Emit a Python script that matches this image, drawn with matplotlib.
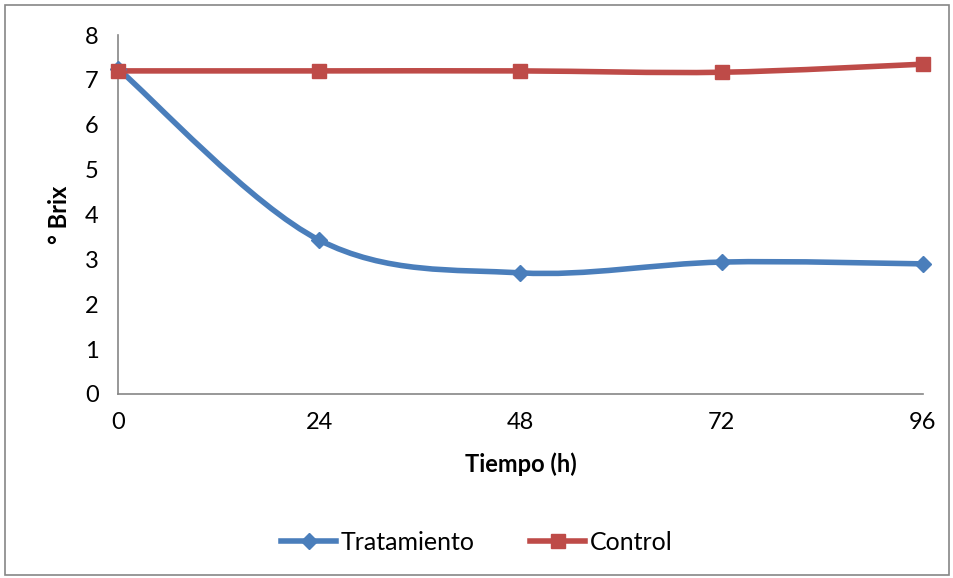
import numpy as np
import matplotlib.pyplot as plt
from matplotlib.path import Path
from matplotlib.patches import PathPatch, Rectangle
from matplotlib.lines import Line2D

plt.rcParams['font.family'] = ['Lato', 'DejaVu Sans']

horas = [0, 24, 48, 72, 96]
tratamiento = [7.25, 3.43, 2.70, 2.94, 2.90]
control = [7.20, 7.20, 7.20, 7.17, 7.35]

azul = '#4a7ebb'
rojo = '#be4b48'


def curva_suave(ax, x, y, color):
    # suavizado tipo Excel (Catmull-Rom -> Bezier)
    x = np.asarray(x, float)
    y = np.asarray(y, float)
    pts = np.column_stack([x, y])
    n = len(pts)
    verts = [pts[0]]
    codes = [Path.MOVETO]
    for i in range(n - 1):
        p0 = pts[i - 1] if i > 0 else pts[i]
        p1 = pts[i]
        p2 = pts[i + 1]
        p3 = pts[i + 2] if i + 2 < n else pts[i + 1]
        c1 = p1 + (p2 - p0) / 6
        c2 = p2 - (p3 - p1) / 6
        verts += [c1, c2, p2]
        codes += [Path.CURVE4] * 3
    ax.add_patch(PathPatch(Path(verts, codes), fill=False, edgecolor=color,
                           lw=4, capstyle='round', joinstyle='round', zorder=2))


fig = plt.figure(figsize=(9.54, 5.78), dpi=100)
ax = fig.add_axes([118 / 954, 1 - 394 / 578, (923 - 118) / 954, (394 - 35) / 578])

curva_suave(ax, horas, tratamiento, azul)
curva_suave(ax, horas, control, rojo)
ax.plot(horas, tratamiento, ls='none', marker='D', ms=8.5, color=azul, zorder=3, clip_on=False)
ax.plot(horas, control, ls='none', marker='s', ms=10.5, color=rojo, zorder=3, clip_on=False)

ax.set_xlim(0, 96)
ax.set_ylim(0, 8)
ax.set_xticks(horas)
ax.set_yticks(range(0, 9))
ax.tick_params(length=0, labelsize=17)
ax.tick_params(axis='x', pad=13)
ax.tick_params(axis='y', pad=14)
for s in ['top', 'right']:
    ax.spines[s].set_visible(False)
for s in ['left', 'bottom']:
    ax.spines[s].set_color('#868686')
    ax.spines[s].set_linewidth(1.2)

ax.set_xlabel('Tiempo (h)', fontsize=17, fontweight='bold', labelpad=14)
ax.set_ylabel('° Brix', fontsize=17, fontweight='bold', labelpad=10)

handles = [Line2D([], [], color=azul, lw=4, marker='D', ms=8.5),
           Line2D([], [], color=rojo, lw=4, marker='s', ms=10.5)]
fig.legend(handles, ['Tratamiento', 'Control'], loc='center', bbox_to_anchor=(0.5, 1 - 542 / 578),
           ncol=2, frameon=False, fontsize=18, handlelength=2.2, columnspacing=2.2, handletextpad=0.2)

fig.patches.append(Rectangle((5 / 954, 3 / 578), 944 / 954, 570 / 578, transform=fig.transFigure,
                             fill=False, edgecolor='#868686', lw=1.2))

fig.savefig('out.png', dpi=100)
